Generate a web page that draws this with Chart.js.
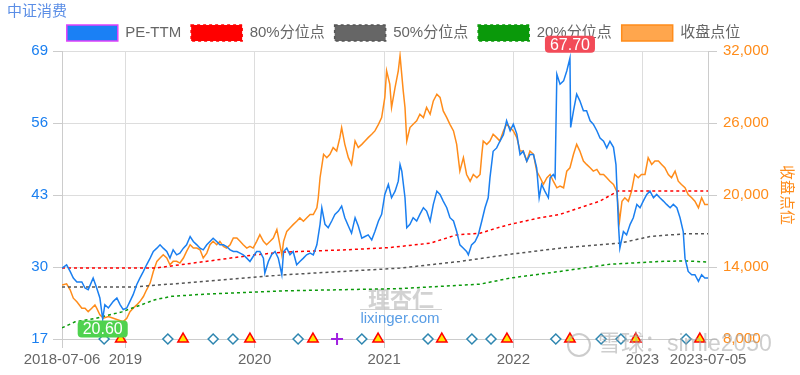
<!DOCTYPE html>
<html>
<head>
<meta charset="utf-8">
<script src="https://cdn.jsdelivr.net/npm/chart.js@4/dist/chart.umd.min.js"></script>
<style>
  html, body { margin: 0; padding: 0; background: #fff; }
  #wrap { width: 800px; height: 375px; }
</style>
</head>
<body>
<div id="wrap"><canvas id="pe"></canvas></div>
<script>
// x values are days counted from 2018-07-06
var tickDays = [0, 179, 544, 910, 1275, 1640, 1825];
var tickLabels = ["2018-07-06", "2019", "2020", "2021", "2022", "2023", "2023-07-05"];
var peTicks = [17, 30, 43, 56, 69];
var idxTicks = [8000, 14000, 20000, 26000, 32000];

var peDays = [0,13,23,32,42,56,65,74,84,88,98,107,115,121,131,145,155,164,173,183,192,201,211,220,230,239,249,258,268,277,286,296,305,314,324,333,343,352,362,371,381,390,399,409,418,427,437,446,456,465,475,484,494,503,512,522,531,540,550,559,569,573,583,592,602,611,621,626,635,644,653,663,672,682,691,701,710,720,729,734,743,752,762,771,781,790,799,809,818,828,837,847,856,865,875,884,894,903,912,922,931,941,950,955,960,969,974,983,992,1002,1011,1021,1030,1040,1049,1059,1068,1077,1087,1096,1106,1115,1124,1134,1143,1148,1157,1167,1176,1186,1195,1204,1209,1218,1228,1237,1247,1256,1266,1275,1285,1294,1303,1313,1322,1332,1341,1348,1355,1364,1374,1379,1388,1393,1398,1407,1417,1426,1435,1437,1445,1454,1463,1473,1482,1492,1501,1511,1520,1530,1539,1548,1558,1565,1572,1576,1586,1595,1605,1614,1624,1633,1642,1652,1661,1671,1680,1689,1699,1708,1718,1727,1737,1746,1755,1760,1769,1779,1788,1798,1807,1816,1825];
var peVals = [29.8,30.4,29.2,28.0,27.3,27.3,26.2,25.9,27.4,28.0,26.2,24.4,20.6,23.2,22.6,23.8,24.4,23.2,22.3,22.6,23.8,25.0,26.8,28.0,29.2,30.4,31.6,32.8,33.4,34.0,33.4,32.8,31.6,33.1,32.2,32.5,33.4,34.0,35.5,34.6,34.0,33.4,33.1,34.0,34.6,35.2,34.6,34.0,34.0,33.7,33.1,32.8,32.8,32.5,32.2,31.6,31.0,31.9,32.8,32.8,31.6,28.9,31.0,32.2,32.8,31.6,28.6,32.8,33.4,32.2,32.8,30.4,31.0,31.6,32.2,32.5,32.2,34.0,37.7,40.7,37.7,37.1,38.3,39.5,40.1,41.0,38.9,37.4,36.1,38.9,37.4,35.2,35.5,35.8,34.9,36.4,38.3,39.5,43.1,44.9,42.5,43.7,45.5,48.5,47.3,42.5,37.1,37.7,38.9,38.3,39.5,40.7,40.1,38.3,41.3,43.7,43.1,41.9,40.7,38.9,38.3,36.4,34.0,33.4,32.8,32.2,34.0,34.6,35.8,38.3,40.7,42.5,46.1,50.9,51.5,52.7,53.9,56.4,54.6,55.8,54.0,50.3,50.9,49.1,50.3,50.3,47.9,42.5,44.9,43.7,42.5,46.1,46.7,46.1,64.8,63.0,63.6,65.4,67.7,55.2,58.2,61.2,60.0,58.2,58.2,56.4,55.8,54.6,53.3,52.7,51.5,52.7,51.6,48.5,37.7,33.4,36.4,35.8,37.7,38.9,41.3,40.7,41.9,43.1,43.7,42.5,43.1,42.5,41.9,41.3,40.7,41.3,40.7,38.9,36.4,31.6,29.2,28.6,28.6,27.4,28.6,28.0,28.0];

var idxDays = [0,13,23,32,42,56,65,74,84,93,98,107,117,131,145,159,173,183,192,201,211,220,230,239,249,258,268,277,286,296,305,314,324,333,343,352,362,371,381,390,399,409,418,427,437,446,456,465,475,484,494,503,512,522,531,540,550,559,569,578,588,597,607,611,621,626,635,644,653,663,672,682,691,701,710,720,724,729,739,748,757,766,776,785,790,799,809,818,828,837,847,856,865,875,884,894,903,912,917,926,931,941,950,955,964,969,974,983,992,1002,1011,1021,1030,1040,1049,1059,1068,1077,1087,1096,1106,1115,1124,1134,1143,1153,1162,1172,1181,1186,1190,1200,1209,1218,1228,1237,1247,1256,1266,1275,1285,1294,1303,1313,1322,1332,1341,1351,1360,1370,1379,1388,1398,1407,1417,1426,1435,1445,1454,1463,1473,1482,1492,1501,1511,1520,1530,1539,1548,1558,1567,1575,1582,1590,1600,1609,1618,1628,1637,1647,1656,1666,1675,1685,1694,1703,1713,1722,1732,1741,1750,1760,1769,1779,1788,1798,1807,1816,1825];
var idxVals = [12500,12600,12100,11400,11100,10570,10570,10280,10570,10840,10570,10010,9730,9870,9730,9590,9450,9730,10280,10570,10840,11120,11540,12100,12660,13630,14470,14750,15020,14750,14190,14470,14470,14330,14750,15300,15860,15580,15580,15440,14750,15160,15860,16140,15860,16140,15720,15580,15860,16420,16420,16140,15860,15580,15720,15580,16140,16700,16140,15860,16140,16420,17120,16560,15000,16140,16970,17250,17530,17810,18090,17810,18090,18370,18370,18930,19770,21440,23390,23110,23390,23950,23670,24780,25620,24220,23110,22550,24500,23950,24220,24500,24780,25060,25340,25890,26450,28130,30350,29240,27290,28960,30350,31610,28680,27290,24500,25620,25890,26180,26730,26450,27290,26730,27840,28400,28130,27010,26450,25890,25340,24220,21990,23110,21710,21150,21710,21440,21710,23390,24500,24220,24500,25060,24780,24500,25340,25890,25620,25340,24780,23660,23660,22830,23660,23390,21990,21440,20880,21440,21710,21150,20600,20740,20600,21990,22270,23390,24220,23660,22830,22550,22270,21990,22130,21710,21710,21440,21150,20880,20320,17810,19480,19770,19480,20320,21710,21440,21710,21710,23110,22550,22830,22830,22550,22270,21710,21440,21990,21150,20880,20600,20040,19770,19480,18930,19770,19200,19200];

var p80Days = [0,263,405,545,630,802,924,1040,1115,1181,1237,1266,1351,1407,1463,1520,1570,1825];
var p80Vals = [29.8,29.8,31.0,32.2,32.7,33.1,33.5,34.3,35.8,36.1,37.2,37.7,38.9,39.5,40.7,41.9,43.7,43.7];
var p50Days = [0,206,263,404,630,955,1124,1266,1407,1576,1661,1760,1825];
var p50Vals = [26.4,26.4,26.7,27.4,28.6,29.8,31.0,32.3,33.4,34.3,35.5,36.0,36.0];
var p20Days = [0,37,93,169,225,263,310,404,630,955,1181,1266,1407,1548,1689,1760,1825];
var p20Vals = [19.0,20.1,20.7,21.9,23.2,24.1,24.7,25.1,25.7,26.1,26.9,28.0,29.2,30.5,31.0,31.1,30.9];

var diamondDays = [119,299,427,483,667,847,1034,1158,1212,1395,1523,1579,1763];
var triangleDays = [166,342,531,709,893,1073,1257,1435,1621,1802];
var crossDays = [777];

function pairs(xs, ys) {
  return xs.map(function(d, i) { return {x: d, y: ys[i]}; });
}
function onAxis(xs) {
  return xs.map(function(d) { return {x: d, y: 17}; });
}

Chart.defaults.font.family = "'Liberation Sans', 'Noto Sans CJK SC', sans-serif";

function bubble(ctx, cx, cy, text, color) {
  ctx.save();
  ctx.font = "16px 'Liberation Sans', sans-serif";
  var w = ctx.measureText(text).width + 10, h = 17;
  ctx.fillStyle = color;
  ctx.beginPath();
  ctx.roundRect(cx - w / 2, cy - h / 2, w, h, 4);
  ctx.fill();
  ctx.fillStyle = "#fff";
  ctx.textAlign = "center";
  ctx.textBaseline = "middle";
  ctx.fillText(text, cx, cy + 1);
  ctx.restore();
}

var extras = {
  id: "extras",
  beforeDatasetsDraw: function(chart) {
    var ctx = chart.ctx;
    ctx.save();
    ctx.textAlign = "center";
    ctx.textBaseline = "middle";
    ctx.font = "bold 22px 'Noto Sans CJK SC'";
    ctx.fillStyle = "rgba(195,195,195,0.75)";
    ctx.fillText("理杏仁", 401, 299);
    ctx.fillRect(360, 309, 82, 1);
    ctx.font = "15px 'Liberation Sans'";
    ctx.fillStyle = "rgba(60,140,225,0.85)";
    ctx.fillText("lixinger.com", 400, 319);
    ctx.restore();
  },
  afterDatasetsDraw: function(chart) {
    var ctx = chart.ctx, x = chart.scales.x, y = chart.scales.y;
    var lo = 0, hi = 0;
    peVals.forEach(function(v, i) {
      if (v < peVals[lo]) lo = i;
      if (v > peVals[hi]) hi = i;
    });
    bubble(ctx, x.getPixelForValue(peDays[lo]), y.getPixelForValue(peVals[lo]) + 10, peVals[lo].toFixed(2), "#4fd24f");
    bubble(ctx, x.getPixelForValue(peDays[hi]), y.getPixelForValue(peVals[hi]) - 14, peVals[hi].toFixed(2), "#f24b58");
  },
  afterDraw: function(chart) {
    var ctx = chart.ctx;
    ctx.save();
    ctx.strokeStyle = "rgba(170,170,170,0.6)";
    ctx.lineWidth = 2;
    ctx.beginPath();
    ctx.arc(579, 345, 11, 0, Math.PI * 2);
    ctx.stroke();
    ctx.font = "23px 'Liberation Sans', 'Noto Sans CJK SC'";
    ctx.textBaseline = "middle";
    ctx.fillStyle = "rgba(165,165,165,0.55)";
    ctx.fillText("雪球：simle2050", 598, 345);
    ctx.restore();
  }
};

new Chart(document.getElementById("pe"), {
  type: "line",
  data: {
    datasets: [
      { label: "PE-TTM", data: pairs(peDays, peVals), yAxisID: "y",
        borderColor: "#1a7ff0", backgroundColor: "#1a80f5", borderWidth: 1.5 },
      { label: "80%分位点", data: pairs(p80Days, p80Vals), yAxisID: "y",
        borderColor: "#ff0000", backgroundColor: "#ff0000", borderWidth: 1.5, borderDash: [3, 3] },
      { label: "50%分位点", data: pairs(p50Days, p50Vals), yAxisID: "y",
        borderColor: "#555555", backgroundColor: "#666666", borderWidth: 1.5, borderDash: [3, 3] },
      { label: "20%分位点", data: pairs(p20Days, p20Vals), yAxisID: "y",
        borderColor: "#0a990a", backgroundColor: "#0a990a", borderWidth: 1.5, borderDash: [3, 3] },
      { label: "收盘点位", data: pairs(idxDays, idxVals), yAxisID: "y1",
        borderColor: "#ff8c1a", backgroundColor: "#ffa64d", borderWidth: 1.5 },
      { label: "d", data: onAxis(diamondDays), yAxisID: "y", showLine: false, clip: false,
        pointStyle: "rectRot", pointRadius: 5, borderColor: "#2e86b0", backgroundColor: "#fff", pointBorderWidth: 1.5 },
      { label: "t", data: onAxis(triangleDays), yAxisID: "y", showLine: false, clip: false,
        pointStyle: "triangle", pointRadius: 6, borderColor: "#ff0000", backgroundColor: "#ffe600", pointBorderWidth: 1.5 },
      { label: "c", data: onAxis(crossDays), yAxisID: "y", showLine: false, clip: false,
        pointStyle: "cross", pointRadius: 6, borderColor: "#a020e0", pointBorderWidth: 2 }
    ]
  },
  options: {
    responsive: true,
    maintainAspectRatio: false,
    animation: false,
    layout: { padding: { left: 7, right: 0, top: 0, bottom: 0 } },
    elements: { point: { radius: 0 }, line: { tension: 0 } },
    plugins: {
      title: {
        display: true, text: "中证消费", align: "start", color: "#5b8ee6",
        font: { size: 15, weight: "normal", lineHeight: 1 },
        padding: { top: 4, bottom: -4 }
      },
      legend: {
        labels: {
          color: "#666", boxWidth: 51, boxHeight: 16, padding: 10,
          font: { size: 15 },
          generateLabels: function(chart) {
            var items = Chart.defaults.plugins.legend.labels.generateLabels(chart).slice(0, 5);
            items[0].strokeStyle = "#e040fb";
            return items;
          }
        }
      },
      tooltip: { enabled: false }
    },
    scales: {
      x: {
        type: "linear", min: 0, max: 1825,
        afterBuildTicks: function(s) { s.ticks = tickDays.map(function(v) { return {value: v}; }); },
        afterFit: function(s) { s.height = 36; },
        ticks: { autoSkip: false, maxRotation: 0, padding: 3, color: "#666", font: { size: 15 },
          callback: function(v, i) { return tickLabels[i]; } },
        grid: { color: "#ddd", tickColor: "#ccc", tickLength: 9 },
        border: { color: "#ccc" }
      },
      y: {
        position: "left", min: 17, max: 69,
        afterBuildTicks: function(s) { s.ticks = peTicks.map(function(v) { return {value: v}; }); },
        afterFit: function(s) { s.width = 55; },
        ticks: { padding: 5, color: "#1a7ff0", font: { size: 15 } },
        grid: { color: "#ddd", tickColor: "#ccc", tickLength: 9 },
        border: { color: "#ccc" }
      },
      y1: {
        position: "right", min: 8000, max: 32000,
        afterBuildTicks: function(s) { s.ticks = idxTicks.map(function(v) { return {value: v}; }); },
        afterFit: function(s) { s.width = 92; },
        ticks: { padding: 6, color: "#ff8c1a", font: { size: 15 },
          callback: function(v) { return v.toLocaleString("en-US"); } },
        grid: { drawOnChartArea: false, tickColor: "#ccc", tickLength: 9 },
        border: { color: "#ccc" },
        title: { display: true, text: "收盘点位", color: "#ff8c1a", font: { size: 15 }, padding: { top: 5, bottom: 0 } }
      }
    }
  },
  plugins: [extras]
});
</script>
</body>
</html>
